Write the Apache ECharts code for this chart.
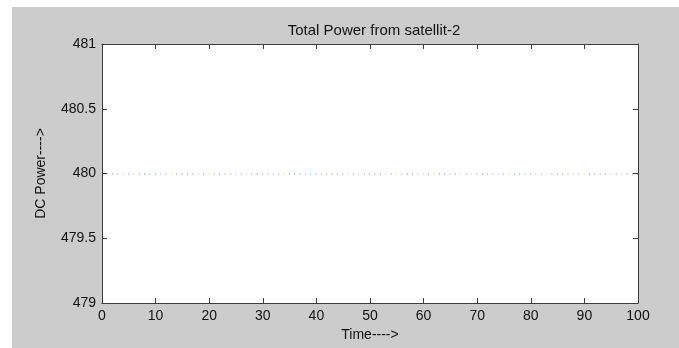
<!DOCTYPE html>
<html>
<head>
<meta charset="utf-8">
<script src="https://cdn.jsdelivr.net/npm/echarts@6/dist/echarts.min.js"></script>
<style>
  html, body { margin: 0; padding: 0; background: #fff; overflow: hidden; }
  #bg { position: absolute; left: 12px; top: 7px; right: 0; bottom: 0; min-width: 667px; min-height: 341px; background: #cccccc; }
  #chart { position: absolute; left: 0; top: 0; width: 679px; height: 348px; }
</style>
</head>
<body>
<div id="bg"></div>
<div id="chart"></div>
<script>
// time samples and power readings (constant 480 W)
const time = [
  0, 1, 2, 3, 4, 5, 6, 7, 8, 9, 10, 11, 12, 13, 14, 15, 16, 17, 18, 19,
  20, 21, 22, 23, 24, 25, 26, 27, 28, 29, 30, 31, 32, 33, 34, 35, 36, 37, 38, 39,
  40, 41, 42, 43, 44, 45, 46, 47, 48, 49, 50, 51, 52, 53, 54, 55, 56, 57, 58, 59,
  60, 61, 62, 63, 64, 65, 66, 67, 68, 69, 70, 71, 72, 73, 74, 75, 76, 77, 78, 79,
  80, 81, 82, 83, 84, 85, 86, 87, 88, 89, 90, 91, 92, 93, 94, 95, 96, 97, 98, 99, 100
];
const power = [
  480, 480, 480, 480, 480, 480, 480, 480, 480, 480, 480, 480, 480, 480, 480, 480, 480, 480, 480, 480,
  480, 480, 480, 480, 480, 480, 480, 480, 480, 480, 480, 480, 480, 480, 480, 480, 480, 480, 480, 480,
  480, 480, 480, 480, 480, 480, 480, 480, 480, 480, 480, 480, 480, 480, 480, 480, 480, 480, 480, 480,
  480, 480, 480, 480, 480, 480, 480, 480, 480, 480, 480, 480, 480, 480, 480, 480, 480, 480, 480, 480,
  480, 480, 480, 480, 480, 480, 480, 480, 480, 480, 480, 480, 480, 480, 480, 480, 480, 480, 480, 480, 480
];
const segColors = ['#0000ff', '#008000', '#ff0000', '#00bfbf', '#bf00bf', '#bfbf00', '#404040'];
const xTicks = [0, 100, 10];
const yTicks = [479, 481, 0.5];

const segments = [];
for (let i = 0; i < time.length - 1; i++) {
  segments.push({
    coords: [[time[i], power[i]], [time[i + 1], power[i + 1]]],
    lineStyle: { color: segColors[i % segColors.length] }
  });
}

const font = 'Liberation Sans, Arial, sans-serif';
const ink = '#111111';
const boxColor = '#3c3c3c';

function xAxisOf(pos, showLabels) {
  return {
    type: 'value', position: pos, min: xTicks[0], max: xTicks[1], interval: xTicks[2],
    axisLine: { show: true, onZero: false, lineStyle: { color: boxColor, width: 1 } },
    axisTick: { show: true, inside: true, length: 5, lineStyle: { color: boxColor } },
    axisLabel: { show: showLabels, color: ink, fontSize: 14, fontFamily: font, margin: 6 },
    splitLine: { show: false },
    name: showLabels ? 'Time---->' : '', nameLocation: 'middle', nameGap: 24,
    nameTextStyle: { color: ink, fontSize: 14, fontFamily: font }
  };
}
function yAxisOf(pos, showLabels) {
  return {
    type: 'value', position: pos, min: yTicks[0], max: yTicks[1], interval: yTicks[2],
    axisLine: { show: true, onZero: false, lineStyle: { color: boxColor, width: 1 } },
    axisTick: { show: true, inside: true, length: 5, lineStyle: { color: boxColor } },
    axisLabel: { show: showLabels, color: ink, fontSize: 14, fontFamily: font, margin: 6 },
    splitLine: { show: false },
    name: showLabels ? 'DC Power---->' : '', nameLocation: 'middle', nameGap: 54, nameRotate: 90,
    nameTextStyle: { color: ink, fontSize: 14, fontFamily: font }
  };
}

const chart = echarts.init(document.getElementById('chart'));
chart.setOption({
  animation: false,
  backgroundColor: 'transparent',
  title: {
    text: 'Total Power from satellit-2',
    left: 369, top: 18, textAlign: 'center',
    textStyle: { color: ink, fontSize: 15, fontWeight: 'normal', fontFamily: font }
  },
  grid: {
    left: 102, top: 44, right: 41, bottom: 45,
    show: true, backgroundColor: '#ffffff', borderWidth: 0
  },
  xAxis: [xAxisOf('bottom', true), xAxisOf('top', false)],
  yAxis: [yAxisOf('left', true), yAxisOf('right', false)],
  series: [{
    type: 'lines',
    coordinateSystem: 'cartesian2d',
    silent: true,
    lineStyle: { width: 1.5, opacity: 0.6, type: [1.5, 20], dashOffset: 16.8 },
    data: segments
  }]
});
</script>
</body>
</html>
